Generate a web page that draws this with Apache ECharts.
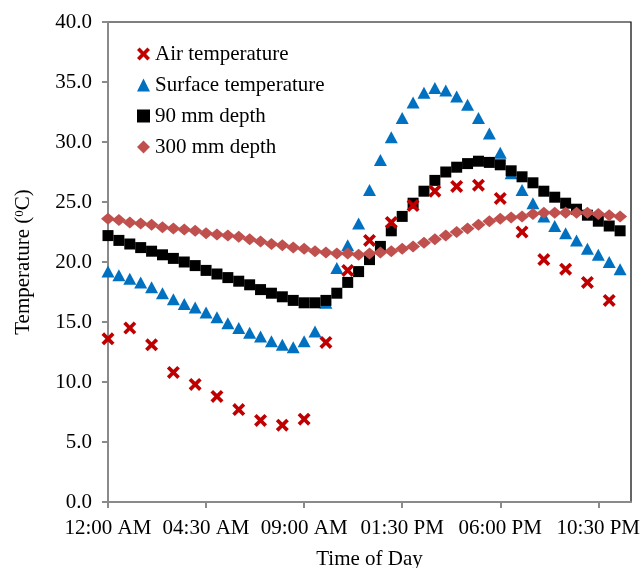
<!DOCTYPE html>
<html>
<head>
<meta charset="utf-8">
<script src="https://cdn.jsdelivr.net/npm/echarts@6/dist/echarts.min.js"></script>
<style>
html,body{margin:0;padding:0;background:#fff;}
#chart{width:641px;height:568px;}
</style>
</head>
<body>
<div id="chart"></div>
<script>
// Time of day in hours
var hoursHourly = [0,1,2,3,4,5,6,7,8,9,10,11,12,13,14,15,16,17,18,19,20,21,22,23];
var hoursHalf = [0,0.5,1,1.5,2,2.5,3,3.5,4,4.5,5,5.5,6,6.5,7,7.5,8,8.5,9,9.5,10,10.5,11,11.5,
                 12,12.5,13,13.5,14,14.5,15,15.5,16,16.5,17,17.5,18,18.5,19,19.5,20,20.5,21,21.5,22,22.5,23,23.5];

var airTemp = [13.6,14.5,13.1,10.8,9.8,8.8,7.7,6.8,6.4,6.9,13.3,19.3,21.8,23.3,24.7,25.9,26.3,26.4,25.3,22.5,20.2,19.4,18.3,16.8];

var surfaceTemp = [19.2,18.9,18.6,18.3,17.9,17.4,16.9,16.5,16.2,15.8,15.4,14.9,14.5,14.1,13.8,13.4,13.1,12.9,13.4,14.2,
                   16.6,19.5,21.4,23.2,26.0,28.5,30.4,32.0,33.3,34.1,34.5,34.3,33.8,33.1,32.0,30.7,29.1,27.4,26.0,24.9,
                   23.8,23.0,22.4,21.8,21.1,20.6,20.0,19.4];

var depth90 = [22.2,21.8,21.5,21.2,20.9,20.6,20.3,20.0,19.7,19.3,19.0,18.7,18.4,18.1,17.7,17.4,17.1,16.8,16.6,16.6,
               16.8,17.4,18.3,19.2,20.2,21.3,22.6,23.8,24.9,25.9,26.8,27.5,27.9,28.2,28.4,28.3,28.1,27.6,27.1,26.6,
               25.9,25.4,24.9,24.4,23.9,23.4,23.0,22.6];

var depth300 = [23.6,23.5,23.3,23.2,23.1,22.9,22.8,22.7,22.6,22.4,22.3,22.2,22.1,21.9,21.7,21.5,21.4,21.2,21.1,20.9,
                20.8,20.7,20.7,20.6,20.7,20.8,20.9,21.1,21.3,21.6,21.9,22.2,22.5,22.8,23.1,23.4,23.6,23.7,23.8,24.0,
                24.1,24.1,24.1,24.1,24.1,24.0,23.9,23.8];

var xTickValues = [0,4.5,9,13.5,18,22.5];
var xTickLabels = ['12:00 AM','04:30 AM','09:00 AM','01:30 PM','06:00 PM','10:30 PM'];

var seriesNames = ['Air temperature','Surface temperature','90 mm depth','300 mm depth'];

function pair(xs, ys){ return ys.map(function(v,i){ return [xs[i], v]; }); }

var FONT = '"Liberation Serif","Times New Roman",serif';
var crossPath = 'path://M0,2 L2,0 L5,3 L8,0 L10,2 L7,5 L10,8 L8,10 L5,7 L2,10 L0,8 L3,5 Z';

var chart = echarts.init(document.getElementById('chart'), null, {renderer:'canvas'});
chart.setOption({
  animation: false,
  backgroundColor: '#fff',
  textStyle: {fontFamily: FONT},
  grid: {left: 108, right: 10, top: 22, bottom: 66, show: true, borderColor: '#000', borderWidth: 1.2,
         containLabel: false, outerBoundsMode: 'none'},
  legend: {
    orient: 'vertical', left: 137, top: 43, padding: 0, itemGap: 9,
    itemWidth: 13, itemHeight: 13,
    textStyle: {fontFamily: FONT, fontSize: 21, color: '#000', lineHeight: 22},
    data: seriesNames
  },
  xAxis: {
    type: 'value', min: 0, max: 24, interval: 4.5,
    name: 'Time of Day', nameLocation: 'middle', nameGap: 47,
    nameTextStyle: {fontFamily: FONT, fontSize: 21, color: '#000'},
    axisLine: {lineStyle: {color: '#8a8a8a', width: 2}},
    axisTick: {show: true, inside: false, length: 6, lineStyle: {color: '#8a8a8a', width: 2}, customValues: xTickValues},
    axisLabel: {fontFamily: FONT, fontSize: 21, color: '#000', margin: 16, customValues: xTickValues,
      formatter: function(v){ var i = xTickValues.indexOf(v); return i >= 0 ? xTickLabels[i] : ''; }},
    splitLine: {show: false}
  },
  yAxis: {
    type: 'value', min: 0, max: 40, interval: 5,
    name: 'Temperature ({sup|0}C)', nameLocation: 'middle', nameGap: 74, nameRotate: 90,
    nameTextStyle: {fontFamily: FONT, fontSize: 21, color: '#000',
      rich: {sup: {fontFamily: FONT, fontSize: 13, verticalAlign: 'top', color: '#000'}}},
    axisLine: {show: true, lineStyle: {color: '#8a8a8a', width: 2}},
    axisTick: {show: true, inside: false, length: 6, lineStyle: {color: '#8a8a8a', width: 2}},
    axisLabel: {fontFamily: FONT, fontSize: 21, color: '#000', margin: 16,
      formatter: function(v){ return v.toFixed(1); }},
    splitLine: {show: false}
  },
  series: [
    {name: seriesNames[1], type: 'scatter', data: pair(hoursHalf, surfaceTemp), symbol: 'triangle', symbolSize: [13,12],
     itemStyle: {color: '#0070C0', opacity: 1}, z: 2},
    {name: seriesNames[2], type: 'scatter', data: pair(hoursHalf, depth90), symbol: 'rect', symbolSize: 11,
     itemStyle: {color: '#000', opacity: 1}, z: 3},
    {name: seriesNames[3], type: 'scatter', data: pair(hoursHalf, depth300), symbol: 'diamond', symbolSize: [14,12],
     itemStyle: {color: '#C0504D', opacity: 1}, z: 4},
    {name: seriesNames[0], type: 'scatter', data: pair(hoursHourly, airTemp), symbol: crossPath, symbolSize: 13,
     itemStyle: {color: '#C00000', opacity: 1}, z: 5}
  ]
});
</script>
</body>
</html>
